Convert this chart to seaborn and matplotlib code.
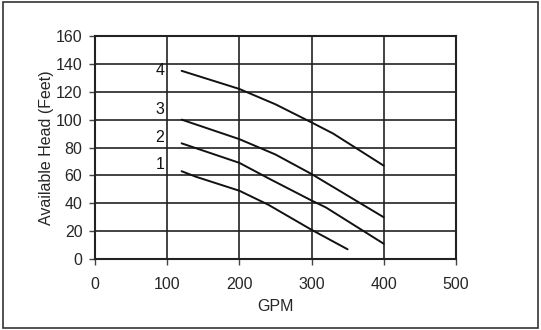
import matplotlib
matplotlib.use("Agg")
import matplotlib.pyplot as plt
import seaborn as sns
import pandas as pd

# curvas de bomba: GPM x altura disponivel (pés)
gpm_1 = [120, 140, 200, 240, 300, 350]
head_1 = [63, 59, 49, 39, 21, 7]
gpm_2 = [120, 200, 240, 300, 320, 400]
head_2 = [83, 69, 58, 42, 37, 11]
gpm_3 = [120, 200, 250, 300, 400]
head_3 = [100, 86, 75, 61, 30]
gpm_4 = [120, 200, 250, 300, 330, 400]
head_4 = [135, 122, 111, 98, 90, 67]

curve_labels = ["1", "2", "3", "4"]
label_x = [96, 96, 96, 96]
label_y = [68, 87, 107, 135]

x_ticks = [0, 100, 200, 300, 400, 500]
y_ticks = [0, 20, 40, 60, 80, 100, 120, 140, 160]

frames = []
for name, xs, ys in zip(curve_labels, [gpm_1, gpm_2, gpm_3, gpm_4], [head_1, head_2, head_3, head_4]):
    frames.append(pd.DataFrame({"gpm": xs, "head": ys, "curva": name}))
df = pd.concat(frames)

sns.set_style("white")
plt.rcParams["font.family"] = ["Liberation Sans", "DejaVu Sans"]

fig = plt.figure(figsize=(5.41, 3.3), dpi=100)
ax = fig.add_axes([0.1756, 0.215, 0.667, 0.676])

sns.lineplot(data=df, x="gpm", y="head", units="curva", estimator=None,
             color="#111111", linewidth=1.4, sort=False, ax=ax, legend=False)

for lab, lx, ly in zip(curve_labels, label_x, label_y):
    ax.text(lx, ly, lab, ha="right", va="center", fontsize=11.5, color="#111111")

ax.set_xlim(0, 500)
ax.set_ylim(0, 160)
ax.set_xticks(x_ticks)
ax.set_yticks(y_ticks)
ax.grid(True, color="#222222", linewidth=1.2)
ax.set_axisbelow(True)
for s in ax.spines.values():
    s.set_color("#222222")
    s.set_linewidth(1.5)
ax.tick_params(axis="both", direction="out", length=4, width=1, color="#444444",
               labelsize=11.5, bottom=True, left=True)
ax.tick_params(axis="x", pad=9)
ax.tick_params(axis="y", pad=5)
ax.set_xlabel("GPM", fontsize=11.5, labelpad=5)
ax.set_ylabel("Available Head (Feet)", fontsize=11.5, labelpad=1.5)

# moldura externa
fig.patches.append(plt.Rectangle((0.005, 0.005), 0.99, 0.99, transform=fig.transFigure,
                                 fill=False, edgecolor="#333333", linewidth=1.2))

plt.savefig("out.png", dpi=100)
